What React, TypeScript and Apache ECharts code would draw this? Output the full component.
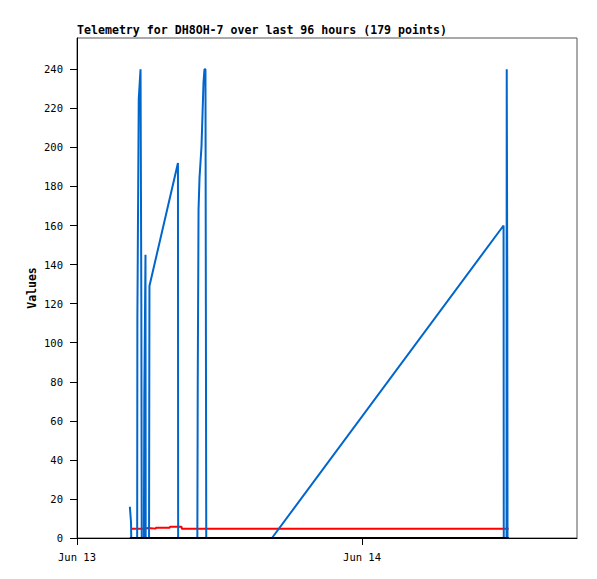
import React, { useEffect, useRef } from "react";
import * as echarts from "echarts";

const TITLE = "Telemetry for DH8OH-7 over last 96 hours (179 points)";
const Y_NAME = "Values";
const X_MIN = "2024-06-13 00:00";
const X_MAX = "2024-06-14 18:06";
const Y_MIN = 0;
const Y_MAX = 256;
const Y_INTERVAL = 20;

const blueTimes = [
  "2024-06-13 04:27", "2024-06-13 04:33", "2024-06-13 04:34", "2024-06-13 04:50", "2024-06-13 05:04",
  "2024-06-13 05:05", "2024-06-13 05:12", "2024-06-13 05:21", "2024-06-13 05:25", "2024-06-13 05:27",
  "2024-06-13 05:38", "2024-06-13 05:40", "2024-06-13 05:46", "2024-06-13 05:47", "2024-06-13 06:04",
  "2024-06-13 06:06", "2024-06-13 08:30", "2024-06-13 08:31", "2024-06-13 09:20", "2024-06-13 10:08",
  "2024-06-13 10:10", "2024-06-13 10:14", "2024-06-13 10:19", "2024-06-13 10:24", "2024-06-13 10:29",
  "2024-06-13 10:34", "2024-06-13 10:39", "2024-06-13 10:44", "2024-06-13 10:49", "2024-06-13 10:51",
  "2024-06-13 10:53", "2024-06-13 12:30", "2024-06-13 14:30", "2024-06-13 16:25", "2024-06-14 11:55",
  "2024-06-14 11:56", "2024-06-14 12:10", "2024-06-14 12:11", "2024-06-14 12:14", "2024-06-14 12:15",
  "2024-06-14 12:21",
];
const blueValues = [
  16, 8, 0, 0, 0,
  112, 225, 240, 120, 0,
  0, 72, 145, 0, 0,
  129, 192, 0, 0, 0,
  80, 168, 184.5, 192.5, 200.5,
  216.5, 233, 240, 240, 120,
  0, 0, 0, 0, 160,
  0, 0, 240, 120, 0,
  0,
];

const redTimes = [
  "2024-06-13 04:33", "2024-06-13 05:36", "2024-06-13 05:37", "2024-06-13 06:00", "2024-06-13 06:01",
  "2024-06-13 06:38", "2024-06-13 06:39", "2024-06-13 07:49", "2024-06-13 07:50", "2024-06-13 08:48",
  "2024-06-13 08:49", "2024-06-14 12:21",
];
const redValues = [4.8, 4.8, 5.1, 5.1, 4.8, 4.8, 5.3, 5.3, 5.8, 5.8, 4.8, 4.8];

const blackTimes = ["2024-06-13 04:27", "2024-06-14 12:21"];
const blackValues = [0, 0];

const FONT = "'DejaVu Sans Mono', 'Liberation Mono', monospace";

const zip = (t: string[], v: number[]) => t.map((x, i) => [x, v[i]]);

export default function App() {
  const ref = useRef<HTMLDivElement>(null);
  useEffect(() => {
    if (!ref.current) return;
    const chart = echarts.init(ref.current, null, { renderer: "svg" });
    chart.setOption({
      animation: false,
      backgroundColor: "#ffffff",
      title: {
        text: TITLE,
        left: 77,
        top: 24,
        padding: 0,
        textStyle: { fontFamily: FONT, fontWeight: "bold", fontSize: 11.6, color: "#000" },
      },
      graphic: [
        {
          type: "text",
          x: 32,
          y: 288,
          rotation: Math.PI / 2,
          style: {
            text: Y_NAME,
            fontFamily: FONT,
            fontWeight: "bold",
            fontSize: 11.5,
            fill: "#000",
            align: "center",
            verticalAlign: "middle",
          },
        },
      ],
      grid: {
        left: 77,
        right: 20,
        top: 38,
        bottom: 41,
        show: true,
        borderColor: "#555",
        borderWidth: 1,
        backgroundColor: "transparent",
      },
      xAxis: {
        type: "time",
        min: X_MIN,
        max: X_MAX,
        minInterval: 24 * 3600 * 1000,
        maxInterval: 24 * 3600 * 1000,
        axisLine: { show: true, lineStyle: { color: "#000", width: 1 } },
        axisTick: { show: true, length: 7, lineStyle: { color: "#000" } },
        axisLabel: {
          formatter: "{MMM} {d}",
          fontFamily: FONT,
          fontSize: 10.5,
          color: "#000",
          margin: 13,
          showMinLabel: true,
          hideOverlap: false,
        },
        splitLine: { show: false },
      },
      yAxis: {
        type: "value",
        min: Y_MIN,
        max: Y_MAX,
        interval: Y_INTERVAL,
        axisLine: { show: true, lineStyle: { color: "#000", width: 1 } },
        axisTick: { show: true, length: 7, lineStyle: { color: "#000" } },
        axisLabel: {
          fontFamily: FONT,
          fontSize: 10.5,
          color: "#000",
          margin: 14,
          showMaxLabel: false,
        },
        splitLine: { show: false },
      },
      series: [
        {
          type: "line",
          data: zip(redTimes, redValues),
          showSymbol: false,
          lineStyle: { color: "#ff0000", width: 2 },
          z: 2,
        },
        {
          type: "line",
          data: zip(blueTimes, blueValues),
          showSymbol: false,
          lineStyle: { color: "#0066cc", width: 2 },
          z: 3,
        },
        {
          type: "line",
          data: zip(blackTimes, blackValues),
          showSymbol: false,
          lineStyle: { color: "#000000", width: 2 },
          z: 4,
        },
      ],
    });
    return () => chart.dispose();
  }, []);
  return <div ref={ref} style={{ width: 597, height: 579, position: "absolute", left: 0, top: 0 }} />;
}
